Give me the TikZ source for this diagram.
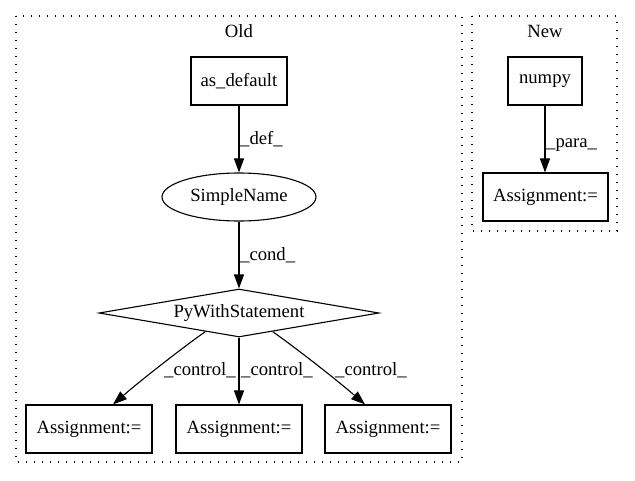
\documentclass[tikz,border=0pt]{standalone}
\usepackage{fontspec}
\setmainfont{Liberation Serif}
\usetikzlibrary{arrows.meta,shapes.geometric,calc}

\tikzset{
  base/.style={draw, line width=1.1pt, inner sep=0pt, font=\fontsize{18.67pt}{22pt}\selectfont},
  boxnode/.style={base, rectangle, minimum height=48pt},
  ellnode/.style={base, ellipse, minimum width=154pt, minimum height=48pt},
  dianode/.style={base, diamond, aspect=5.83, minimum width=280pt, minimum height=48pt},
  cluster/.style={line width=1.1pt, dash pattern=on 1.4pt off 6.6pt},
  title/.style={font=\fontsize{18.67pt}{22pt}\selectfont},
  edge/.style={line width=1.1pt, -{Triangle[length=14pt,width=10pt]}},
  elabel/.style={anchor=west, inner sep=0pt, font=\fontsize{18.67pt}{22pt}\selectfont},
}

\begin{document}
\begin{tikzpicture}[x=1pt, y=-1pt]
  \useasboundingbox (0,0) rectangle (635,480);

  % clusters
  \draw[cluster] (16,16) rectangle (462,462);
  \draw[cluster] (472,16) rectangle (617,231);
  \node[title] (oldlbl) at (239,31) {Old};
  \node[title] (newlbl) at (545,31) {New};

  % old graph
  \node[boxnode, minimum width=96pt] (asdef) at (239,81) {as\_default};
  \node[ellnode] (sname) at (239,197) {SimpleName};
  \node[dianode] (pyw) at (239,313) {PyWithStatement};
  \node[boxnode, minimum width=126pt] (a1) at (89,429) {Assignment:=};
  \node[boxnode, minimum width=126pt] (a2) at (239,429) {Assignment:=};
  \node[boxnode, minimum width=126pt] (a3) at (388,429) {Assignment:=};

  \draw[edge] (asdef) -- (sname);
  \node[elabel] (ldef) at (240,139) {\_def\_};
  \draw[edge] (sname) -- (pyw);
  \node[elabel] (lcond) at (240,255) {\_cond\_};

  \coordinate (t1) at ($(a1.north)+(24,0)$);
  \coordinate (t3) at ($(a3.north)+(-23,0)$);
  \draw[edge] (pyw.209) .. controls (182,348) and (140,381) .. (t1);
  \draw[edge] (pyw.south) -- (a2.north);
  \draw[edge] (pyw.-29) .. controls (296,348) and (338,381) .. (t3);
  \node[elabel] (lc1) at (164,370) {\_control\_};
  \node[elabel] (lc2) at (241,370) {\_control\_};
  \node[elabel] (lc3) at (335,370) {\_control\_};

  % new graph
  \node[boxnode, minimum width=74pt] (np) at (545,81) {numpy};
  \node[boxnode, minimum width=125pt] (a4) at (545.5,197) {Assignment:=};
  \draw[edge] (np) -- (a4.north -| np);
  \node[elabel] (lpara) at (546,145) {\_para\_};
\end{tikzpicture}
\end{document}
